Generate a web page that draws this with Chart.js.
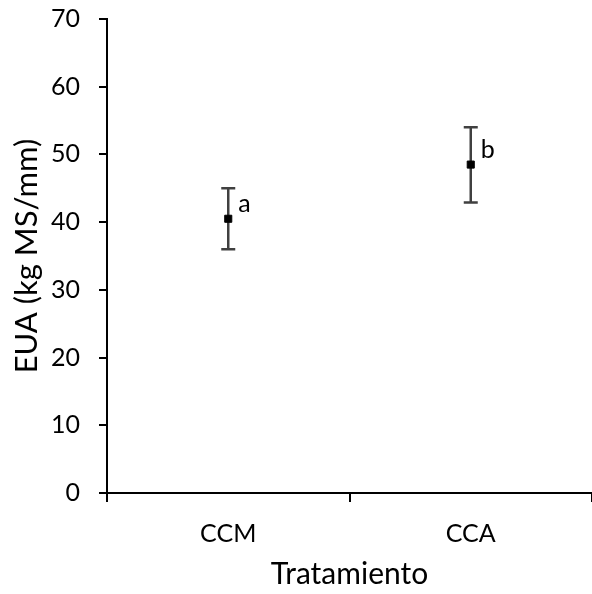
<!DOCTYPE html>
<html>
<head>
<meta charset="utf-8">
<script src="https://cdn.jsdelivr.net/npm/chart.js@4"></script>
<style>
  html, body { margin: 0; padding: 0; background: #fff; }
  #wrap { width: 592px; height: 594px; }
</style>
</head>
<body>
<div id="wrap"><canvas id="eua"></canvas></div>
<script>
const tratamientos = ['CCM', 'CCA'];
const euaMedia = [40.5, 48.5];
const euaSup = [45.0, 54.0];
const euaInf = [36.0, 42.9];
const letras = ['a', 'b'];
const yTicks = [0, 10, 20, 30, 40, 50, 60, 70];

const FONT = 'Lato, "Open Sans", sans-serif';

// barras de error + letras
const errorBars = {
    id: 'errorBars',
    beforeDatasetsDraw(chart) {
        const ctx = chart.ctx;
        const x = chart.scales.x, y = chart.scales.y;
        ctx.save();
        ctx.strokeStyle = '#404040';
        ctx.lineWidth = 2.5;
        tratamientos.forEach((t, i) => {
            const px = x.getPixelForValue(i);
            const top = y.getPixelForValue(euaSup[i]);
            const bot = y.getPixelForValue(euaInf[i]);
            ctx.beginPath();
            ctx.moveTo(px, top); ctx.lineTo(px, bot);
            ctx.moveTo(px - 7, top); ctx.lineTo(px + 7, top);
            ctx.moveTo(px - 7, bot); ctx.lineTo(px + 7, bot);
            ctx.stroke();
        });
        ctx.restore();
    },
    afterDatasetsDraw(chart) {
        const ctx = chart.ctx;
        const x = chart.scales.x, y = chart.scales.y;
        ctx.save();
        ctx.fillStyle = '#000';
        ctx.font = '25px ' + FONT;
        ctx.textAlign = 'left';
        ctx.textBaseline = 'alphabetic';
        letras.forEach((l, i) => {
            ctx.fillText(l, x.getPixelForValue(i) + 10, y.getPixelForValue(euaMedia[i]) - 6.5);
        });
        ctx.restore();
    }
};

function noPad(scale) {
    scale.paddingTop = 0;
    scale.paddingBottom = 0;
    scale.paddingLeft = 0;
    scale.paddingRight = 0;
}

new Chart(document.getElementById('eua'), {
    type: 'line',
    data: {
        labels: tratamientos,
        datasets: [{
            label: 'EUA',
            data: euaMedia,
            showLine: false,
            pointStyle: 'rect',
            pointRadius: 5,
            pointBorderWidth: 1,
            pointBackgroundColor: '#000',
            pointBorderColor: '#000'
        }]
    },
    options: {
        responsive: true,
        maintainAspectRatio: false,
        animation: false,
        layout: { autoPadding: false, padding: { top: 19, right: 0, left: 0, bottom: 0 } },
        plugins: {
            legend: { display: false },
            tooltip: { enabled: false }
        },
        scales: {
            x: {
                offset: true,
                grid: { offset: true, drawOnChartArea: false, color: '#000', lineWidth: 2, tickLength: 9 },
                border: { color: '#000', width: 2 },
                ticks: { color: '#000', font: { family: FONT, size: 25 }, padding: 17 },
                title: { display: true, text: 'Tratamiento', color: '#000', font: { family: FONT, size: 30 }, padding: { bottom: 2 } },
                afterFit(scale) { scale.height = 101; noPad(scale); }
            },
            y: {
                min: 0,
                max: 70,
                afterBuildTicks(scale) { scale.ticks = yTicks.map(v => ({ value: v })); },
                grid: { drawOnChartArea: false, color: '#000', lineWidth: 2, tickLength: 8 },
                border: { color: '#000', width: 2 },
                ticks: { color: '#000', font: { family: FONT, size: 25 }, padding: 19 },
                title: { display: true, text: 'EUA (kg MS/mm)', color: '#000', font: { family: FONT, size: 31 }, padding: { top: 8 } },
                afterFit(scale) { scale.width = 107; noPad(scale); }
            }
        }
    },
    plugins: [errorBars]
});
</script>
</body>
</html>
